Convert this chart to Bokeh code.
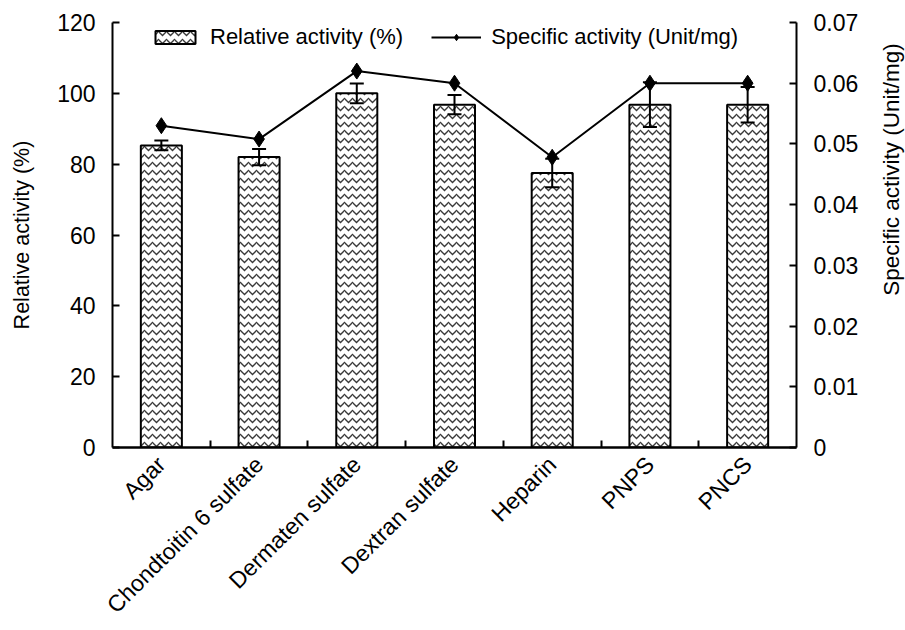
import math
from bokeh.plotting import figure
from bokeh.layouts import row
from bokeh.core.properties import value
from bokeh.models import (Range1d, LinearAxis, FixedTicker, NumeralTickFormatter,
                          Legend, LegendItem)
from bokeh.embed import file_html
from bokeh.resources import INLINE

# ---- data -------------------------------------------------------------
categories = ["Agar", "Chondtoitin 6 sulfate", "Dermaten sulfate",
              "Dextran sulfate", "Heparin", "PNPS", "PNCS"]
relative_activity = [85.3, 82.0, 100.0, 96.8, 77.5, 96.8, 96.8]      # %
relative_error = [1.4, 2.3, 2.8, 2.7, 4.0, 6.3, 5.0]                  # +/- %
specific_activity = [0.0530, 0.0508, 0.0620, 0.0600, 0.0478, 0.0600, 0.0600]  # Unit/mg
left_ticks = [0, 20, 40, 60, 80, 100, 120]
right_ticks = [0, 0.01, 0.02, 0.03, 0.04, 0.05, 0.06, 0.07]

# ---- layout -----------------------------------------------------------
W, H = 905, 630
TITLE_STRIP = 26                      # narrow strip holding the right-hand axis title
PW = W - TITLE_STRIP
FRAME_LEFT, FRAME_RIGHT, FRAME_TOP, FRAME_BOTTOM = 112, 796, 22, 447
FONT = "Liberation Sans"

x = list(range(1, len(categories) + 1))
boundaries = [i + 0.5 for i in x[:-1]]

p = figure(width=PW, height=H, output_backend="svg", toolbar_location=None,
           x_range=Range1d(0.5, len(categories) + 0.5),
           y_range=Range1d(left_ticks[0], left_ticks[-1]),
           min_border_left=FRAME_LEFT, min_border_right=PW - FRAME_RIGHT,
           min_border_top=FRAME_TOP, min_border_bottom=H - FRAME_BOTTOM)
p.outline_line_color = None
p.grid.visible = False
p.border_fill_color = "white"
p.extra_y_ranges = {"sa": Range1d(right_ticks[0], right_ticks[-1])}

# ---- bars --------------------------------------------------------------
bars = p.vbar(x=x, top=relative_activity, width=0.42, bottom=0,
              fill_color="white", line_color="black", line_width=2,
              hatch_pattern="horizontal_wave", hatch_color="#3a3a3a",
              hatch_scale=8, hatch_weight=1.3)

# error bars
lo = [v - e for v, e in zip(relative_activity, relative_error)]
hi = [v + e for v, e in zip(relative_activity, relative_error)]
p.segment(x0=x, y0=lo, x1=x, y1=hi, line_color="black", line_width=2)
p.scatter(x=x + x, y=lo + hi, marker="dash", size=14, line_color="black", line_width=2)

# specific activity line on the right axis
line = p.line(x=x, y=specific_activity, y_range_name="sa", line_color="black", line_width=2)
pts = p.scatter(x=x, y=specific_activity, y_range_name="sa", marker="diamond",
                size=16, fill_color="black", line_color="black")

# ---- axes --------------------------------------------------------------
yax = p.yaxis[0]
yax.ticker = FixedTicker(ticks=left_ticks)
yax.axis_label = "Relative activity (%)"

rax = LinearAxis(y_range_name="sa")
rax.ticker = FixedTicker(ticks=right_ticks)
rax.formatter = NumeralTickFormatter(format="0.[00]")
p.add_layout(rax, "right")

for ax in (yax, rax):
    ax.major_tick_in = 7
    ax.major_tick_out = 0
    ax.minor_tick_line_color = None
    ax.axis_line_width = 2
    ax.major_tick_line_width = 2
    ax.major_label_text_font = FONT
    ax.major_label_text_font_size = "23px"
    ax.major_label_text_color = "black"
    ax.major_label_standoff = 17
    ax.axis_label_text_font = FONT
    ax.axis_label_text_font_size = "21.5px"
    ax.axis_label_text_font_style = "normal"
    ax.axis_label_text_color = "black"
    ax.axis_label_standoff = 20

xax = p.xaxis[0]
xax.ticker = FixedTicker(ticks=x, minor_ticks=boundaries)
xax.major_label_overrides = {i: c for i, c in zip(x, categories)}
xax.major_label_orientation = math.pi / 4
xax.major_tick_in = 0
xax.major_tick_out = 0
xax.minor_tick_in = 7
xax.minor_tick_out = 0
xax.minor_tick_line_width = 2
xax.axis_line_width = 2.5
xax.major_label_text_font = FONT
xax.major_label_text_font_size = "23px"
xax.major_label_text_color = "black"
xax.major_label_standoff = 13

# ---- legend (kept just inside the top of the frame) ---------------------
legend = Legend(items=[LegendItem(label="Relative activity (%)", renderers=[bars]),
                       LegendItem(label="Specific activity (Unit/mg)", renderers=[line, pts])],
                orientation="horizontal", location=(38, FRAME_BOTTOM - FRAME_TOP - 28),
                background_fill_alpha=0, border_line_color=None,
                padding=0, margin=0, spacing=28, glyph_width=50, glyph_height=16,
                label_height=24, label_standoff=10, label_text_font=FONT,
                label_text_font_size="22px", label_text_color="black")
p.add_layout(legend, "center")

# ---- right-hand axis title (reads bottom to top) ------------------------
t = figure(width=TITLE_STRIP, height=H, output_backend="svg", toolbar_location=None,
           x_range=Range1d(0, TITLE_STRIP), y_range=Range1d(0, H),
           x_axis_type=None, y_axis_type=None,
           min_border_left=0, min_border_right=0, min_border_top=0, min_border_bottom=0)
t.outline_line_color = None
t.grid.visible = False
t.border_fill_color = "white"
t.text(x=[TITLE_STRIP / 2 - 1], y=[H - 218], text=["Specific activity (Unit/mg)"],
       angle=math.pi / 2, text_align="center", text_baseline="middle",
       text_font=value(FONT), text_font_size="22.5px", text_color="black")

layout = row(p, t, spacing=0)
open("out.html", "w").write(file_html(layout, INLINE))
